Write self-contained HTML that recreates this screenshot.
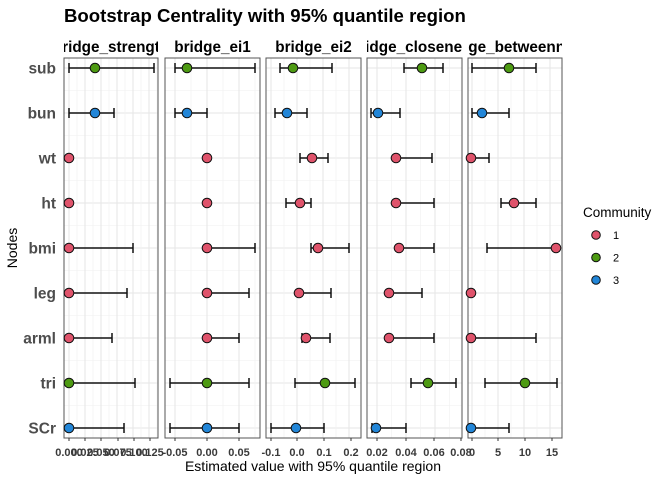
<!DOCTYPE html>
<html><head><meta charset="utf-8"><style>body{margin:0;background:#fff}svg{display:block}text{font-family:"Liberation Sans",sans-serif}</style></head>
<body>
<svg id="s" width="672" height="480" xmlns="http://www.w3.org/2000/svg"></svg>
<script>
(function(){
const C={1:"#DF536B",2:"#4D9A12",3:"#2286D8"};
const rows=["sub","bun","wt","ht","bmi","leg","arml","tri","SCr"];
const ry=i=>68+i*45;
const comm=[2,3,1,1,1,1,1,2,3];
const P=[
{x0:64,x1:158,t:"bridge_strength",ticks:[[69,"0.000"],[85,"0.025"],[101,"0.050"],[118,"0.075"],[134,"0.100"],[150,"0.125"]],
d:[[69,95,154],[69,95,114],[69,69,69],[69,69,69],[69,69,133],[69,69,127],[69,69,112],[69,69,135],[69,69,124]]},
{x0:165,x1:260,t:"bridge_ei1",ticks:[[175,"-0.05"],[207,"0.00"],[239,"0.05"]],
d:[[175,187,255],[175,187,207],[207,207,207],[207,207,207],[207,207,255],[207,207,249],[207,207,239],[170,207,249],[170,207,239]]},
{x0:266,x1:361,t:"bridge_ei2",ticks:[[271,"-0.1"],[297,"0.0"],[324,"0.1"],[351,"0.2"]],
d:[[280,293,332],[275,287,307],[300,312,328],[286,300,311],[311,318,349],[299,299,331],[302,306,330],[295,325,355],[271,296,324]]},
{x0:367,x1:462,t:"bridge_closeness",ticks:[[377,"0.02"],[406,"0.04"],[434,"0.06"],[461,"0.08"]],
d:[[404,422,443],[371,378,400],[396,396,432],[396,396,434],[399,399,434],[389,389,422],[389,389,434],[411,428,456],[372,376,406]]},
{x0:468,x1:562,t:"bridge_betweenness",ticks:[[472,"0"],[498,"5"],[525,"10"],[552,"15"]],
d:[[472,509,536],[472,482,509],[471,471,489],[501,514,536],[487,556,556],[471,471,471],[471,471,536],[485,525,557],[471,471,509]]}];
let h='<text x="64" y="22" font-size="18.6" font-weight="bold">Bootstrap Centrality with 95% quantile region</text>';
const yTop=58,bot=438;
P.forEach((p,k)=>{
 h+=`<clipPath id="c${k}"><rect x="${p.x0}" y="30" width="${p.x1-p.x0}" height="30"/></clipPath>`;
 h+=`<text x="${(p.x0+p.x1)/2}" y="52" font-size="15.3" font-weight="bold" text-anchor="middle" clip-path="url(#c${k})">${p.t}</text>`;
 for(let j=-1;j<20;j++){const y=68+j*22.5; if(y>yTop&&y<bot){const maj=j%2==0;h+=`<line x1="${p.x0}" x2="${p.x1}" y1="${y}" y2="${y}" stroke="${maj?'#e5e5e5':'#f0f0f0'}" stroke-width="${maj?1:0.6}"/>`;}}
 const t=p.ticks, sp=t[1][0]-t[0][0];
 for(let j=-6;j<30;j++){const x=t[0][0]+j*sp/2; if(x>p.x0&&x<p.x1){const maj=(j%2==0);h+=`<line x1="${x}" x2="${x}" y1="${yTop}" y2="${bot}" stroke="${maj?'#e5e5e5':'#f0f0f0'}" stroke-width="${maj?1:0.6}"/>`;}}
 h+=`<rect x="${p.x0}" y="${yTop}" width="${p.x1-p.x0}" height="${bot-yTop}" fill="none" stroke="#555" stroke-width="1"/>`;
 t.forEach(([x,l])=>{h+=`<line x1="${x}" x2="${x}" y1="${bot}" y2="${bot+3}" stroke="#333"/><text x="${x}" y="456" font-size="11" font-weight="bold" fill="#3a3a3a" text-anchor="middle">${l}</text>`;});
 p.d.forEach(([a,m,b],i)=>{const y=ry(i);
  if(b>a) h+=`<line x1="${a}" x2="${b}" y1="${y}" y2="${y}" stroke="#111" stroke-width="1.5"/><line x1="${a}" x2="${a}" y1="${y-5}" y2="${y+5}" stroke="#111" stroke-width="1.5"/><line x1="${b}" x2="${b}" y1="${y-5}" y2="${y+5}" stroke="#111" stroke-width="1.5"/>`;
  h+=`<circle cx="${m}" cy="${y}" r="4.8" fill="${C[comm[i]]}" stroke="#111" stroke-width="1"/>`;});
});
rows.forEach((r,i)=>{h+=`<text x="56" y="${ry(i)+5.5}" font-size="15.5" font-weight="bold" fill="#4d4d4d" text-anchor="end">${r}</text>`;});
h+=`<text transform="translate(17,248) rotate(-90)" font-size="14" text-anchor="middle">Nodes</text>`;
h+=`<text x="313" y="471" font-size="14" text-anchor="middle">Estimated value with 95% quantile region</text>`;
h+=`<text x="583" y="217" font-size="13.5">Community</text>`;
[1,2,3].forEach((c,i)=>{const y=235+i*22.5;h+=`<circle cx="596" cy="${y}" r="4.3" fill="${C[c]}" stroke="#111"/><text x="613" y="${y+4}" font-size="11">${c}</text>`;});
document.getElementById('s').innerHTML=h;
})();
</script>
</body></html>
